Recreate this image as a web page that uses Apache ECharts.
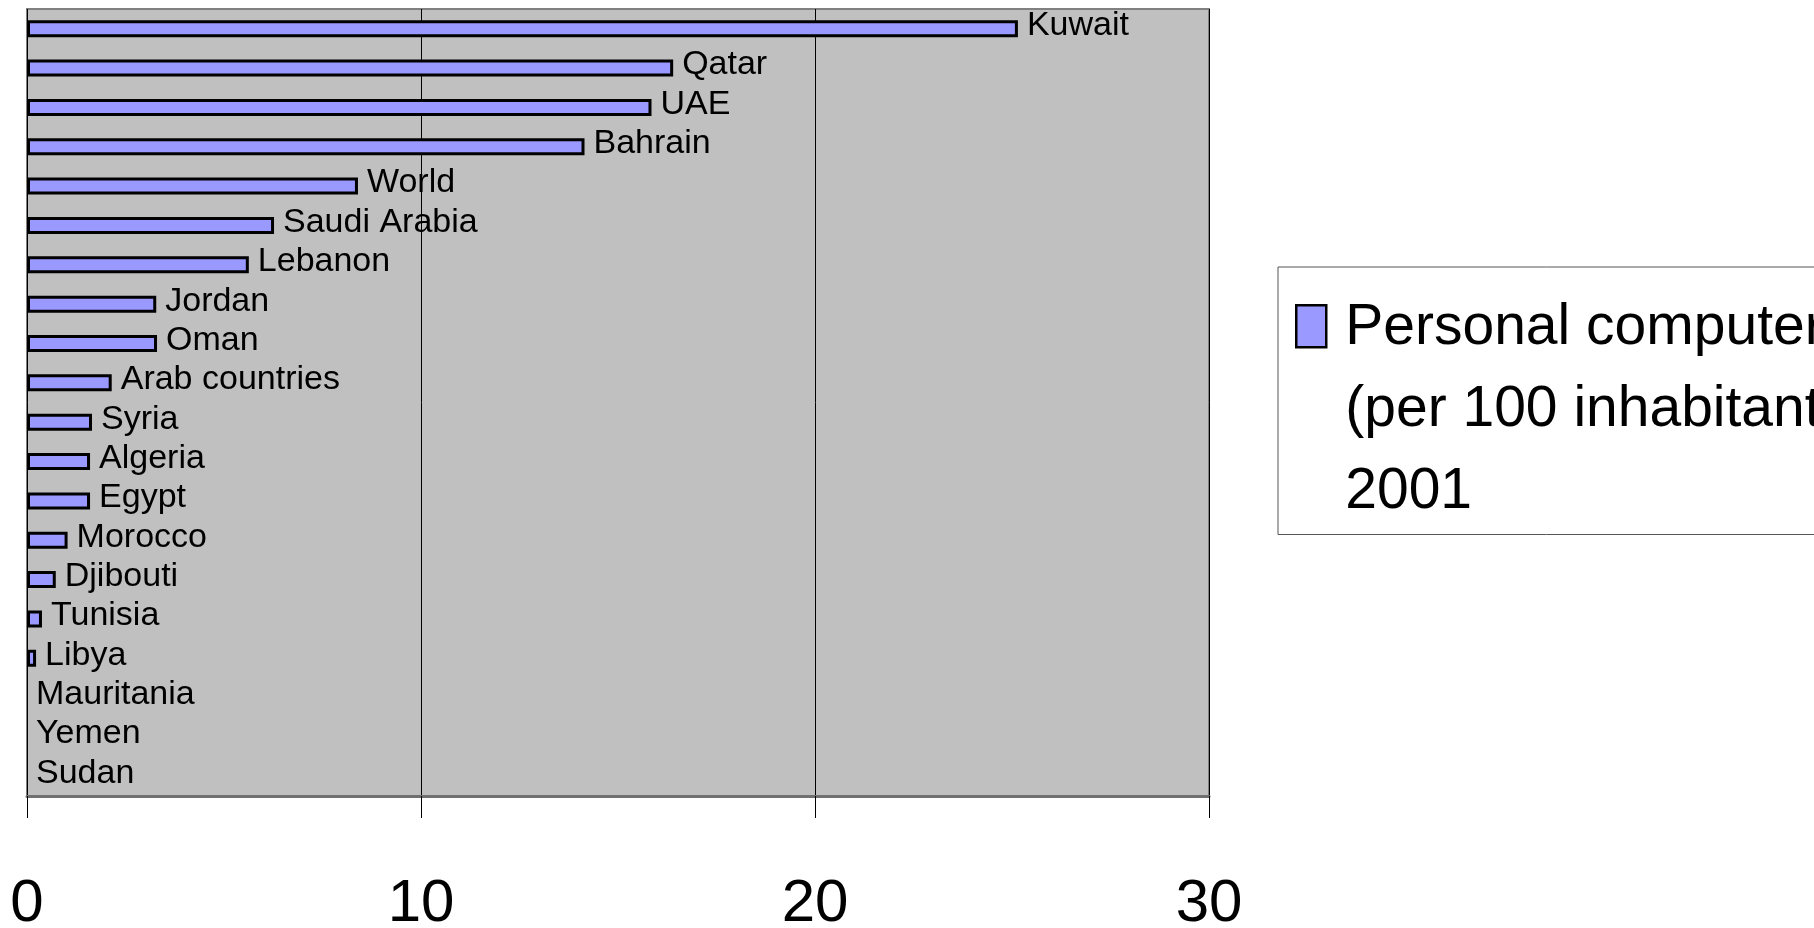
<!DOCTYPE html>
<html>
<head>
<meta charset="utf-8">
<title>Personal computers per 100 inhabitants, 2001</title>
<script src="https://cdn.jsdelivr.net/npm/echarts@6/dist/echarts.min.js"></script>
<style>
    html, body { margin: 0; padding: 0; background: #fff; }
    #chart { width: 1814px; height: 928px; }
</style>
</head>
<body>
<div id="chart"></div>
<script>
var countries = ['Kuwait', 'Qatar', 'UAE', 'Bahrain', 'World', 'Saudi Arabia', 'Lebanon', 'Jordan', 'Oman',
    'Arab countries', 'Syria', 'Algeria', 'Egypt', 'Morocco', 'Djibouti', 'Tunisia', 'Libya',
    'Mauritania', 'Yemen', 'Sudan'];
var computers = [25.15, 16.4, 15.85, 14.15, 8.4, 6.27, 5.63, 3.28, 3.3,
    2.15, 1.65, 1.6, 1.6, 1.03, 0.73, 0.38, 0.23,
    0, 0, 0];
var xTicks = [0, 10, 20, 30];
var seriesName = 'Personal computers\n(per 100 inhabitants)\n2001';

var font = "'Liberation Sans', Arial, sans-serif";

var chart = echarts.init(document.getElementById('chart'));

// zero values get no border, otherwise a thin stroke shows at the axis
var barData = computers.map(function(v) {
    return v === 0 ? { value: v, itemStyle: { borderWidth: 0 } } : v;
});

var option = {
    animation: false,
    textStyle: { fontFamily: font },
    grid: {
        left: 27,
        top: 9,
        right: 605,
        bottom: 132,
        show: true,
        backgroundColor: '#c0c0c0',
        borderColor: '#808080',
        borderWidth: 2,
        containLabel: false,
        outerBoundsMode: 'none'
    },
    legend: {
        left: 1278,
        top: 267,
        orient: 'vertical',
        padding: [19, 30, 0, 17],
        borderColor: '#555',
        borderWidth: 1,
        backgroundColor: '#fff',
        // icon box is taller/wider than the swatch so it sits by the first line
        itemWidth: 44,
        itemHeight: 246,
        icon: 'path://M0,0M0,18L30,18L30,60L0,60ZM44,246',
        itemStyle: { borderWidth: 2.5, borderColor: '#000' },
        textStyle: {
            fontFamily: font,
            fontSize: 57,
            lineHeight: 82,
            color: '#000'
        },
        data: [seriesName]
    },
    xAxis: {
        type: 'value',
        min: xTicks[0],
        max: xTicks[xTicks.length - 1],
        interval: xTicks[1] - xTicks[0],
        axisLine: { show: true, lineStyle: { color: '#707070', width: 3 } },
        axisTick: { show: true, length: 22, lineStyle: { color: '#000', width: 1 } },
        axisLabel: {
            margin: 78,
            fontSize: 60,
            color: '#000',
            fontFamily: font
        },
        splitLine: { show: true, lineStyle: { color: '#000', width: 1 } }
    },
    yAxis: {
        type: 'category',
        inverse: true,
        data: countries,
        axisLine: { show: false },
        axisTick: { show: false },
        axisLabel: { show: false },
        splitLine: { show: false }
    },
    series: [{
        name: seriesName,
        type: 'bar',
        barWidth: 17,
        data: barData,
        itemStyle: {
            color: '#9999ff',
            borderColor: '#000',
            borderWidth: 3
        },
        label: {
            show: true,
            position: 'right',
            distance: 9,
            offset: [0, -3],
            color: '#000',
            fontSize: 34,
            fontFamily: font,
            formatter: function(p) {
                return p.name;
            }
        }
    }]
};
chart.setOption(option);
</script>
</body>
</html>
